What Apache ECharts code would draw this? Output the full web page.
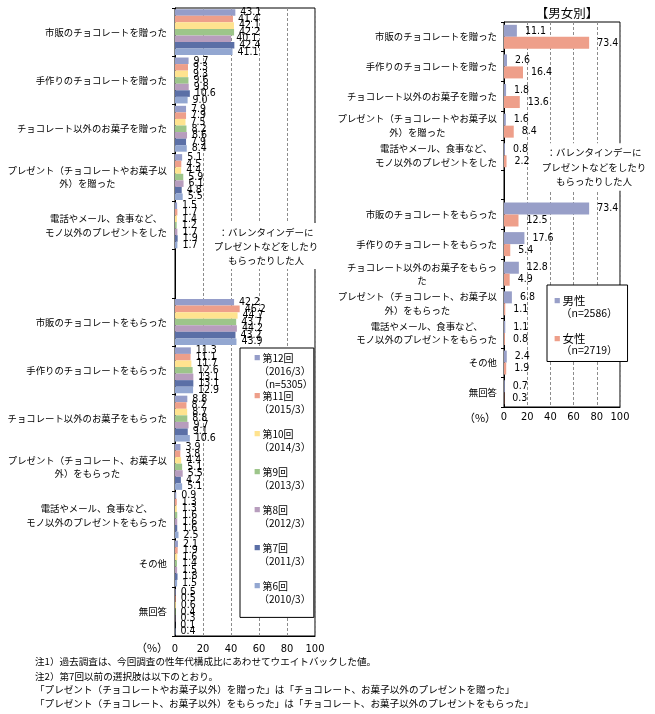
<!DOCTYPE html>
<html><head><meta charset="utf-8">
<script src="https://cdn.jsdelivr.net/npm/echarts@6/dist/echarts.min.js"></script>
<style>html,body{margin:0;padding:0;background:#fff}#c{width:655px;height:714px}</style>
</head><body><div id="c"></div>
<script>
// ---- data ----
const leftCategories = ['市販のチョコレートを贈った','手作りのチョコレートを贈った','チョコレート以外のお菓子を贈った','プレゼント（チョコレートやお菓子以\n外）を贈った','電話やメール、食事など、\nモノ以外のプレゼントをした','','市販のチョコレートをもらった','手作りのチョコレートをもらった','チョコレート以外のお菓子をもらった','プレゼント（チョコレート、お菓子以\n外）をもらった','電話やメール、食事など、\nモノ以外のプレゼントをもらった','その他','無回答'];
const rightCategories = ['市販のチョコレートを贈った','手作りのチョコレートを贈った','チョコレート以外のお菓子を贈った','プレゼント（チョコレートやお菓子以\n外）を贈った','電話やメール、食事など、\nモノ以外のプレゼントをした','','市販のチョコレートをもらった','手作りのチョコレートをもらった','チョコレート以外のお菓子をもらっ\nた','プレゼント（チョコレート、お菓子以\n外）をもらった','電話やメール、食事など、\nモノ以外のプレゼントをもらった','その他','無回答'];
const surveyNames = ['第12回','第11回','第10回','第9回','第8回','第7回','第6回'];
const surveyPeriods = ['（2016/3）','（2015/3）','（2014/3）','（2013/3）','（2012/3）','（2011/3）','（2010/3）'];
const surveyN = ['（n=5305）','','','','','',''];
const r12 = [43.1, 9.7, 7.9, 5.1, 1.5, null, 42.2, 11.3, 8.8, 3.9, 0.9, 2.1, 0.5];
const r11 = [41.4, 9.3, 7.9, 4.5, 1.7, null, 46.2, 11.1, 8.2, 3.8, 1.3, 1.9, 0.5];
const r10 = [42.1, 9.3, 7.5, 4.4, 1.4, null, 44.7, 11.7, 8.7, 4.4, 1.3, 1.6, 0.6];
const r9  = [42.2, 9.6, 8.2, 5.9, 1.2, null, 43.7, 12.6, 8.8, 5.1, 1.6, 1.4, 0.4];
const r8  = [40.1, 9.8, 8.6, 6.1, 1.7, null, 44.2, 13.1, 9.7, 5.5, 1.6, 1.5, 0.3];
const r7  = [42.4, 10.6, 7.9, 4.8, 1.9, null, 43.2, 13.1, 9.1, 4.2, 1.6, 1.8, 0.1];
const r6  = [41.1, 9.0, 8.4, 5.5, 1.7, null, 43.9, 12.9, 10.6, 5.1, 2.5, 1.5, 0.4];
const surveyValues = [r12, r11, r10, r9, r8, r7, r6];
const genderNames = ['男性','女性'];
const genderN = ['（n=2586）','（n=2719）'];
const male   = [11.1, 2.6, 1.8, 1.6, 0.8, null, 73.4, 17.6, 12.8, 6.8, 1.1, 2.4, 0.7];
const female = [73.4, 16.4, 13.6, 8.4, 2.2, null, 12.5, 5.4, 4.9, 1.1, 0.8, 1.9, 0.3];
const genderValues = [male, female];
const xTicks = [0, 20, 40, 60, 80, 100];
const noteText = '：バレンタインデーに\nプレゼントなどをしたり\nもらったりした人';
const footnotes = ['注1）過去調査は、今回調査の性年代構成比にあわせてウエイトバックした値。','注2）第7回以前の選択肢は以下のとおり。','「プレゼント（チョコレートやお菓子以外）を贈った」は「チョコレート、お菓子以外のプレゼントを贈った」','「プレゼント（チョコレート、お菓子以外）をもらった」は「チョコレート、お菓子以外のプレゼントをもらった」'];

// ---- style ----
const surveyColors = ['#959DC9','#EE9F8A','#FFE38F','#9DC58A','#B79DBD','#5B6FA6','#93A7D1'];
const genderColors = ['#989FC8','#EE9F8A'];
const JP = '"Noto Sans CJK JP", sans-serif';
const NUM = '"Liberation Sans Narrow", "DejaVu Sans Condensed", "Liberation Sans", sans-serif';

const catLabel = (margin) => ({
  color: '#000', fontFamily: JP, fontSize: 9.4, lineHeight: 13.5, margin: margin, align: 'right',
  formatter: v => v.split('\n').map(s => '{c|' + s + '}').join('\n'),
  rich: { c: { align: 'center', fontFamily: JP, fontSize: 9.4, lineHeight: 13.5, color: '#000' } }
});
const valAxis = (gi, margin) => ({
  type: 'value', gridIndex: gi, min: 0, max: 100, interval: 20,
  axisLine: { show: true, lineStyle: { color: '#000', width: 1 } },
  axisTick: { show: false },
  splitLine: { show: true, lineStyle: { color: '#8c8c8c', type: [3, 2], width: 1 } },
  axisLabel: { color: '#000', fontFamily: NUM, fontSize: 11, margin: margin,
    formatter: v => xTicks.includes(v) ? String(v) : '' }
});
const catAxis = (gi, data, margin) => ({
  type: 'category', gridIndex: gi, data: data, inverse: true,
  axisLine: { show: true, lineStyle: { color: '#000', width: 1 } },
  axisTick: { show: true, length: 3, lineStyle: { color: '#000' } },
  splitLine: { show: false },
  axisLabel: catLabel(margin)
});
const valueLabel = (dist) => ({
  show: true, position: 'right', distance: dist, color: '#000', fontFamily: NUM, fontSize: 10.5,
  formatter: p => (p.value == null ? '' : Number(p.value).toFixed(1))
});

const series = [];
surveyNames.forEach((n, i) => series.push({
  name: n, type: 'bar', xAxisIndex: 0, yAxisIndex: 0, data: surveyValues[i],
  itemStyle: { color: surveyColors[i] }, barGap: '0%', barCategoryGap: '5%',
  label: valueLabel(5)
}));
genderNames.forEach((n, i) => series.push({
  name: n, type: 'bar', xAxisIndex: 1, yAxisIndex: 1, data: genderValues[i],
  itemStyle: { color: genderColors[i] }, barGap: '0%', barCategoryGap: '19%',
  label: valueLabel(8)
}));

const leftRich = { t: { fontFamily: JP, fontSize: 10, lineHeight: 13.2, color: '#000' },
  p: { fontFamily: JP, fontSize: 10, lineHeight: 13.2, color: '#000', padding: [0, 0, 0, 5] } };
surveyColors.forEach((c, i) => leftRich['m' + i] = { fontFamily: JP, fontSize: 6.5, lineHeight: 13.2, color: c, padding: [0, 2, 0, 0] });
const rightRich = { t: { fontFamily: JP, fontSize: 11.5, lineHeight: 12, color: '#000' },
  p: { fontFamily: JP, fontSize: 10.5, lineHeight: 12, color: '#000', padding: [0, 0, 0, 7] } };
genderColors.forEach((c, i) => rightRich['g' + i] = { fontFamily: JP, fontSize: 6.5, lineHeight: 12, color: c, padding: [0, 2, 0, 0] });

const option = {
  animation: false,
  backgroundColor: '#fff',
  grid: [
    { left: 175, top: 8, width: 140, height: 628, show: true, borderColor: '#000', borderWidth: 1, backgroundColor: 'transparent', outerBoundsMode: 'none', containLabel: false },
    { left: 504, top: 22, width: 116, height: 385, show: true, borderColor: '#000', borderWidth: 1, backgroundColor: 'transparent', outerBoundsMode: 'none', containLabel: false }
  ],
  xAxis: [valAxis(0, 8), valAxis(1, 5)],
  yAxis: [catAxis(0, leftCategories, 8), catAxis(1, rightCategories, 7)],
  legend: [
    { data: surveyNames, orient: 'vertical', left: 240, top: 348, icon: 'none', itemWidth: 0, itemHeight: 39.6, itemGap: 0,
      padding: [3.4, 1, 0, 9], backgroundColor: '#fff', borderColor: '#000', borderWidth: 1, selectedMode: false,
      textStyle: { color: '#000', rich: leftRich },
      formatter: name => { const i = surveyNames.indexOf(name);
        return '{m' + i + '|■}{t|' + name + '}\n{p|' + surveyPeriods[i] + '}\n{p|' + (surveyN[i] || '　') + '}'; } },
    { data: genderNames, orient: 'vertical', left: 547, top: 285, icon: 'none', itemWidth: 0, itemHeight: 24, itemGap: 14,
      padding: [10, 10, 6, 2], backgroundColor: '#fff', borderColor: '#000', borderWidth: 1, selectedMode: false,
      textStyle: { color: '#000', rich: rightRich },
      formatter: name => { const i = genderNames.indexOf(name);
        return '{g' + i + '|■}{t|' + name + '}\n{p|' + genderN[i] + '}'; } }
  ],
  graphic: [
    { type: 'text', x: 266, y: 246, z: 100, style: { text: noteText, align: 'center', verticalAlign: 'middle',
      fontFamily: JP, fontSize: 9.5, lineHeight: 14, fill: '#000', backgroundColor: '#fff', padding: [2, 1] } },
    { type: 'text', x: 594, y: 167, z: 100, style: { text: noteText, align: 'center', verticalAlign: 'middle',
      fontFamily: JP, fontSize: 9.5, lineHeight: 14.5, fill: '#000', backgroundColor: '#fff', padding: [2, 1] } },
    { type: 'text', x: 567, y: 13, style: { text: '【男女別】', align: 'center', verticalAlign: 'middle', fontFamily: JP, fontSize: 12.5, fill: '#000' } },
    { type: 'text', x: 152, y: 648, style: { text: '（%）', align: 'center', verticalAlign: 'middle', fontFamily: JP, fontSize: 11, fill: '#000' } },
    { type: 'text', x: 480, y: 418, style: { text: '（%）', align: 'center', verticalAlign: 'middle', fontFamily: JP, fontSize: 11, fill: '#000' } },
    ...footnotes.map((t, i) => ({ type: 'text', x: 35, y: [661, 676, 689, 703][i],
      style: { text: t, align: 'left', verticalAlign: 'middle', fontFamily: JP, fontSize: 9.6, fill: '#000' } }))
  ],
  series: series
};
const chart = echarts.init(document.getElementById('c'), null, { renderer: 'canvas' });
chart.setOption(option);
</script>
</body></html>
